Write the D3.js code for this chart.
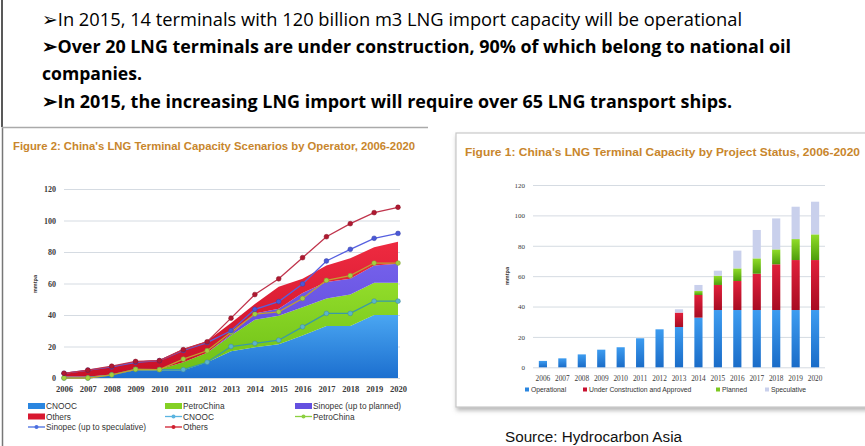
<!DOCTYPE html>
<html>
<head>
<meta charset="utf-8">
<script src="https://cdn.jsdelivr.net/npm/d3@7"></script>
<style>
  body { margin: 0; background: #fff; }
  svg { display: block; }
  .bullet { font-family: "Open Sans", "Noto Sans", sans-serif; fill: #000; }
  .fig-title { font-family: "Liberation Sans", Arial, sans-serif; font-weight: bold; font-size: 10.5px; fill: #c8862c; }
  .tick text { font-family: "Liberation Serif", "DejaVu Serif", serif; fill: #3a3a3a; }
  .leg { font-family: "Liberation Sans", Arial, sans-serif; fill: #333; }
</style>
</head>
<body>
<div id="chart"></div>
<script>
// ---- data ----
const years = ["2006", "2007", "2008", "2009", "2010", "2011", "2012", "2013",
    "2014", "2015", "2016", "2017", "2018", "2019", "2020"];
const yTicks = [0, 20, 40, 60, 80, 100, 120];

// figure 2: stacked areas by operator (mmtpa)
const cnoocArea = [1, 1, 2, 5, 5, 5, 10, 17, 19.5, 21.5, 27, 33, 33, 40, 40];
const petroArea = [0, 0, 0, 0, 0.5, 5, 6, 10, 17.5, 18, 18, 17.5, 20, 20.5, 20.5];
const sinopecArea = [0, 0, 0, 0, 0, 0, 0, 1, 4, 4.5, 9, 10.5, 10, 11, 12];
const othersArea = [2.5, 4, 5.5, 5.5, 6, 8.5, 7.5, 7, 6, 14, 9, 10.5, 13, 11.5, 14];

// figure 2: scenario lines
const cnoocLine = [0, 0, 2, 5.5, 5.3, 5.3, 10, 20, 22, 24, 32.5, 41, 41, 48.8, 48.8];
const petroLine = [0, 0, 2, 5.5, 5.3, 12, 17.3, 29, 40.6, 42, 50.5, 62, 65, 73, 73];
const sinopecLine = [3, 5, 7, 10, 11, 17.5, 22.5, 30, 43.6, 48.5, 59.7, 74.3, 81.7, 88.7, 91.8];
const othersLine = [3, 5, 7.5, 10.5, 11, 18, 23, 38, 53, 63, 76.4, 89.7, 98, 105, 108.4];

// figure 1: stacked bars by project status (mmtpa)
const operational = [4.2, 5.9, 8.5, 11.6, 13.2, 19.1, 25, 26.5, 32.7, 37.7, 37.7, 37.7, 37.7, 37.7, 37.7];
const underConstruction = [0, 0, 0, 0, 0, 0, 0, 9.5, 14.9, 16.5, 19.1, 23.9, 30.1, 32.9, 32.9];
const planned = [0, 0, 0, 0, 0, 0, 0, 0, 2.6, 6.1, 8.3, 10.1, 9.8, 13.8, 16.9];
const speculative = [0, 0, 0, 0, 0, 0, 0, 2.2, 4, 3.3, 11.7, 18.7, 20.4, 21.3, 21.5];

const bullets = [
    { text: "\u27A2In 2015, 14 terminals with 120 billion m3 LNG import capacity will be operational", bold: false, y: 26, len: 700 },
    { text: "\u27A2Over 20 LNG terminals are under construction, 90% of which belong to national oil", bold: true, y: 53, len: 749 },
    { text: "companies.", bold: true, y: 80, len: 100 },
    { text: "\u27A2In 2015, the increasing LNG import will require over 65 LNG transport ships.", bold: true, y: 108, len: 690 }
];

const svgWidth = 865, svgHeight = 446;

let svg = d3.select("#chart").append("svg")
    .attr("width", svgWidth)
    .attr("height", svgHeight);

// gradients
let defs = svg.append("defs");
function vGrad(id, top, bottom) {
    let g = defs.append("linearGradient").attr("id", id)
        .attr("x1", 0).attr("y1", 0).attr("x2", 0).attr("y2", 1);
    g.append("stop").attr("offset", "0%").attr("stop-color", top);
    g.append("stop").attr("offset", "100%").attr("stop-color", bottom);
}
vGrad("gBlue", "#4aa6f2", "#1c6fcf");
vGrad("gGreen", "#92dc2a", "#6cbf16");
vGrad("gPurple", "#7460ea", "#5a44d8");
vGrad("gRed", "#ee2a40", "#c81028");
vGrad("bBlue", "#3d9cf0", "#1a6cc8");
vGrad("bRed", "#e0203c", "#a80c22");
vGrad("bGreen", "#90dc28", "#4e9e0c");
defs.append("filter").attr("id", "shadow")
    .append("feDropShadow").attr("dx", 1).attr("dy", 3).attr("stdDeviation", 2)
    .attr("flood-color", "#888").attr("flood-opacity", 0.6);

// slide frame
svg.append("line").attr("x1", 2).attr("x2", 2).attr("y1", 0).attr("y2", 127)
    .attr("stroke", "#222").attr("stroke-width", 1.5);
svg.append("line").attr("x1", 2.5).attr("x2", 2.5).attr("y1", 127).attr("y2", 446)
    .attr("stroke", "#777").attr("stroke-width", 1.5);
svg.append("line").attr("x1", 2).attr("x2", 428).attr("y1", 127.5).attr("y2", 127.5)
    .attr("stroke", "#aaa").attr("stroke-width", 1.5);

// bullet text
svg.selectAll("text.bullet")
    .data(bullets)
    .join("text")
    .attr("class", "bullet")
    .attr("x", 42)
    .attr("y", (d) => d.y)
    .attr("font-size", 18.5)
    .attr("font-weight", (d) => d.bold ? "bold" : "normal")
    .attr("textLength", (d) => d.len)
    .attr("lengthAdjust", "spacingAndGlyphs")
    .text((d) => d.text);

// ================= Figure 2 (left) =================
let left = svg.append("g");
left.append("text").attr("class", "fig-title")
    .attr("x", 13).attr("y", 150)
    .attr("textLength", 402).attr("lengthAdjust", "spacingAndGlyphs")
    .text("Figure 2:   China's LNG Terminal Capacity Scenarios by Operator, 2006-2020");

let xL = d3.scalePoint().domain(years).range([64, 398]);
let yL = d3.scaleLinear().domain([0, 120]).range([378, 189]);

let yAxisL = left.append("g")
    .attr("transform", "translate(64,0)")
    .call(d3.axisLeft(yL).tickValues(yTicks).tickSize(-336).tickPadding(8));
yAxisL.select(".domain").remove();
yAxisL.selectAll(".tick line").attr("stroke", "#d5dbe2");
yAxisL.selectAll(".tick text").attr("font-size", 8).attr("font-weight", "bold").attr("fill", "#555");

let rowsL = years.map((y, i) => ({
    year: y, cnooc: cnoocArea[i], petro: petroArea[i], sinopec: sinopecArea[i], others: othersArea[i]
}));
let stackL = d3.stack().keys(["cnooc", "petro", "sinopec", "others"])(rowsL);
let areaFill = { cnooc: "url(#gBlue)", petro: "url(#gGreen)", sinopec: "url(#gPurple)", others: "url(#gRed)" };
let area = d3.area()
    .x((d) => xL(d.data.year))
    .y0((d) => yL(d[0]))
    .y1((d) => yL(d[1]));
left.selectAll("path.area")
    .data(stackL)
    .join("path")
    .attr("class", "area")
    .attr("d", area)
    .attr("fill", (d) => areaFill[d.key]);

let lineSeries = [
    { name: "cnooc", values: cnoocLine, stroke: "#3a9aa6", dot: "#5ab4cc" },
    { name: "petro", values: petroLine, stroke: "#c0a030", dot: "#a4d040" },
    { name: "sinopec", values: sinopecLine, stroke: "#5660e0", dot: "#4a58d8" },
    { name: "others", values: othersLine, stroke: "#c0344c", dot: "#b01830" }
];
let line = d3.line()
    .x((d, i) => xL(years[i]))
    .y((d) => yL(d));
lineSeries.forEach((s) => {
    left.append("path")
        .attr("d", line(s.values))
        .attr("fill", "none")
        .attr("stroke", s.stroke)
        .attr("stroke-width", 1.3);
    left.selectAll("circle." + s.name)
        .data(s.values)
        .join("circle")
        .attr("class", s.name)
        .attr("cx", (d, i) => xL(years[i]))
        .attr("cy", (d) => yL(d))
        .attr("r", 2.4)
        .attr("fill", s.dot)
        .attr("stroke", d3.color(s.dot).darker(0.8))
        .attr("stroke-width", 0.5);
});

let xAxisL = left.append("g")
    .attr("transform", "translate(0,378)")
    .call(d3.axisBottom(xL).tickSize(0).tickPadding(8));
xAxisL.select(".domain").remove();
xAxisL.selectAll(".tick text").attr("font-size", 8.5).attr("font-weight", "bold");

left.append("text").attr("class", "leg")
    .attr("transform", "translate(37,284) rotate(-90)")
    .attr("text-anchor", "middle")
    .attr("font-size", 5.5).attr("font-weight", "bold")
    .text("mmtpa");

// legend
let legL = [
    { label: "CNOOC", type: "area", color: "#2a86e0", x: 28, y: 406 },
    { label: "PetroChina", type: "area", color: "#84d024", x: 165, y: 406 },
    { label: "Sinopec (up to planned)", type: "area", color: "#6450e0", x: 295, y: 406 },
    { label: "Others", type: "area", color: "#d81830", x: 28, y: 416.5 },
    { label: "CNOOC", type: "line", color: "#5ab4e0", x: 165, y: 416.5 },
    { label: "PetroChina", type: "line", color: "#8cd040", x: 295, y: 416.5 },
    { label: "Sinopec (up to speculative)", type: "line", color: "#4a6ee0", x: 28, y: 427 },
    { label: "Others", type: "line", color: "#d02030", x: 165, y: 427 }
];
let legLG = left.selectAll("g.legL")
    .data(legL)
    .join("g")
    .attr("class", "legL")
    .attr("transform", (d) => `translate(${d.x},${d.y})`);
legLG.filter((d) => d.type == "area").append("rect")
    .attr("x", 0).attr("y", -3).attr("width", 17).attr("height", 6)
    .attr("fill", (d) => d.color);
legLG.filter((d) => d.type == "line").append("line")
    .attr("x1", 0).attr("x2", 17).attr("y1", 0).attr("y2", 0)
    .attr("stroke", (d) => d.color).attr("stroke-width", 1.3);
legLG.filter((d) => d.type == "line").append("circle")
    .attr("cx", 8.5).attr("cy", 0).attr("r", 2)
    .attr("fill", (d) => d.color);
legLG.append("text").attr("class", "leg")
    .attr("x", 18).attr("y", 3)
    .attr("font-size", 8.3)
    .text((d) => d.label);

// ================= Figure 1 (right) =================
let right = svg.append("g");
right.append("rect")
    .attr("x", 456).attr("y", 133).attr("width", 420).attr("height", 274)
    .attr("fill", "#fff").attr("stroke", "#c8c8c8").attr("stroke-width", 1.2)
    .attr("filter", "url(#shadow)");
right.append("text").attr("class", "fig-title")
    .attr("x", 465).attr("y", 156)
    .attr("textLength", 395).attr("lengthAdjust", "spacingAndGlyphs")
    .text("Figure 1:   China's LNG Terminal Capacity by Project Status, 2006-2020");

let xR = d3.scaleBand().domain(years).range([533, 825]).paddingInner(0.58).paddingOuter(0.3);
let yR = d3.scaleLinear().domain([0, 120]).range([367.3, 185]);

let yAxisR = right.append("g")
    .attr("transform", "translate(533,0)")
    .call(d3.axisLeft(yR).tickValues(yTicks).tickSize(-292).tickPadding(8));
yAxisR.select(".domain").remove();
yAxisR.selectAll(".tick line").attr("stroke", "#d5dbe2");
yAxisR.selectAll(".tick text").attr("font-size", 7).attr("fill", "#555");

let rowsR = years.map((y, i) => ({
    year: y, op: operational[i], uc: underConstruction[i], pl: planned[i], sp: speculative[i]
}));
let stackR = d3.stack().keys(["op", "uc", "pl", "sp"])(rowsR);
let barFill = { op: "url(#bBlue)", uc: "url(#bRed)", pl: "url(#bGreen)", sp: "#c9d0ec" };
right.selectAll("g.series")
    .data(stackR)
    .join("g")
    .attr("class", "series")
    .attr("fill", (d) => barFill[d.key])
    .selectAll("rect")
    .data((d) => d)
    .join("rect")
    .attr("x", (d) => xR(d.data.year))
    .attr("y", (d) => yR(d[1]))
    .attr("width", xR.bandwidth())
    .attr("height", (d) => yR(d[0]) - yR(d[1]));

let xAxisR = right.append("g")
    .attr("transform", "translate(0,367.3)")
    .call(d3.axisBottom(xR).tickSize(0).tickPadding(9));
xAxisR.select(".domain").remove();
xAxisR.selectAll(".tick text").attr("font-size", 7.3);

right.append("text").attr("class", "leg")
    .attr("transform", "translate(509,276) rotate(-90)")
    .attr("text-anchor", "middle")
    .attr("font-size", 5.5).attr("font-weight", "bold")
    .text("mmtpa");

let legR = [
    { label: "Operational", color: "#2a86e0", x: 525 },
    { label: "Under Construction and Approved", color: "#c81030", x: 583 },
    { label: "Planned", color: "#7cc820", x: 716 },
    { label: "Speculative", color: "#c9d0ec", x: 765 }
];
let legRG = right.selectAll("g.legR")
    .data(legR)
    .join("g")
    .attr("class", "legR")
    .attr("transform", (d) => `translate(${d.x},389.5)`);
legRG.append("rect")
    .attr("x", 0).attr("y", -2).attr("width", 4).attr("height", 4)
    .attr("fill", (d) => d.color);
legRG.append("text").attr("class", "leg")
    .attr("x", 6).attr("y", 2.3)
    .attr("font-size", 6.8)
    .text((d) => d.label);

svg.append("text")
    .attr("x", 505).attr("y", 442)
    .attr("font-family", "Liberation Sans, Arial, sans-serif")
    .attr("font-size", 14)
    .attr("textLength", 177).attr("lengthAdjust", "spacingAndGlyphs")
    .attr("fill", "#111")
    .text("Source: Hydrocarbon Asia");
</script>
</body>
</html>
